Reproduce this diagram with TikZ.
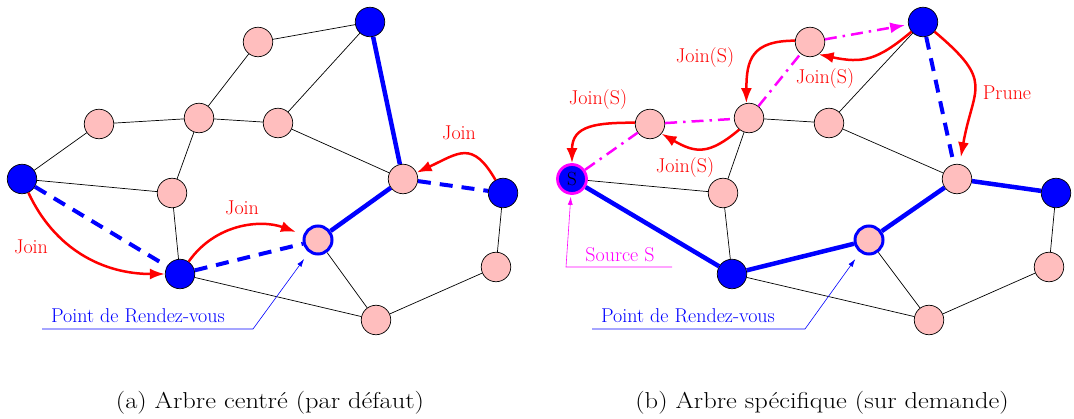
\documentclass[tikz,border=0pt]{standalone}
\usetikzlibrary{arrows.meta}
\definecolor{pinkn}{RGB}{255,190,190}
\definecolor{mgt}{RGB}{255,0,255}
\definecolor{rd}{RGB}{255,0,0}
\definecolor{bl}{RGB}{0,0,255}
\begin{document}
\begin{tikzpicture}[x=1pt,y=-1pt,
  nd/.style={circle,draw=black,line width=0.7pt,fill=pinkn,minimum size=29.5pt,inner sep=0pt},
  bn/.style={nd,fill=bl},
  rp/.style={nd,draw=bl,line width=3pt,minimum size=28pt},
  src/.style={nd,fill=bl,draw=mgt,line width=2.8pt,minimum size=29pt,font=\fontsize{19}{19}\selectfont},
  edg/.style={black,line width=0.7pt},
  tree/.style={bl,line width=4.5pt},
  treed/.style={bl,line width=4pt,dash pattern=on 13pt off 9pt},
  joinarr/.style={rd,line width=2.5pt,-{Latex[length=15pt,width=11pt]}},
  mag/.style={mgt,line width=2.5pt,dash pattern=on 12pt off 6pt on 2.5pt off 6pt},
  lbl/.style={font=\fontsize{20}{20}\selectfont},
  note/.style={line width=0.6pt,-{Latex[length=8pt,width=5pt]}},
  captxt/.style={font=\fontsize{23}{26}\selectfont}
]
\path[use as bounding box] (0,0) rectangle (1074,419);

% ---------- left graph ----------
\node[bn] (lA) at (370,22) {};
\node[nd] (lB) at (258,42) {};
\node[nd] (lC) at (99,124) {};
\node[nd] (lD) at (199,118) {};
\node[nd] (lE) at (278,123) {};
\node[bn] (lF) at (22,179) {};
\node[nd] (lG) at (172,193) {};
\node[nd] (lH) at (403,179) {};
\node[bn] (lI) at (503,193) {};
\node[rp] (lJ) at (318,240) {};
\node[bn] (lK) at (180,274) {};
\node[nd] (lL) at (496,267) {};
\node[nd] (lM) at (376,320) {};

\draw[edg] (lA) -- (lB);
\draw[edg] (lA) -- (lE);
\draw[edg] (lB) -- (lD);
\draw[edg] (lC) -- (lD);
\draw[edg] (lC) -- (lF);
\draw[edg] (lD) -- (lE);
\draw[edg] (lD) -- (lG);
\draw[edg] (lF) -- (lG);
\draw[edg] (lE) -- (lH);
\draw[edg] (lG) -- (lK);
\draw[edg] (lK) -- (lM);
\draw[edg] (lJ) -- (lM);
\draw[edg] (lI) -- (lL);
\draw[edg] (lL) -- (lM);
\draw[tree] (lA) -- (lH);
\draw[tree] (lH) -- (lJ);
\draw[treed] (lF) -- (lK);
\draw[treed] (lK) -- (lJ);
\draw[treed] (lH) -- (lI);

\draw[joinarr] (lF) to[out=-65,in=180] (lK);
\draw[joinarr,shorten >=8pt] (lK) to[out=55,in=160] (lJ);
\draw[joinarr] (lI) to[out=120,in=25,looseness=1.5] (lH);
\node[lbl,rd] (t1) at (31,247) {Join};
\node[lbl,rd] (t2) at (242,208) {Join};
\node[lbl,rd] (t3) at (459,133) {Join};

\node[lbl,bl] (rv1) at (138,316) {Point de Rendez-vous};
\coordinate (p1) at (42,329);
\coordinate (p2) at (253,329);
\draw[note,bl,shorten >=8pt] (p1) -- (p2) -- (lJ);

% ---------- right graph ----------
\node[bn] (rA) at (923,22) {};
\node[nd] (rB) at (810,42) {};
\node[nd] (rC) at (650,124) {};
\node[nd] (rD) at (749,118) {};
\node[nd] (rE) at (829,123) {};
\node[src] (rF) at (572,179) {S};
\node[nd] (rG) at (723,193) {};
\node[nd] (rH) at (957,179) {};
\node[bn] (rI) at (1056,193) {};
\node[rp] (rJ) at (869,240) {};
\node[bn] (rK) at (732,274) {};
\node[nd] (rL) at (1049,267) {};
\node[nd] (rM) at (929,320) {};

\draw[edg] (rA) -- (rE);
\draw[edg] (rD) -- (rE);
\draw[edg] (rD) -- (rG);
\draw[edg] (rF) -- (rG);
\draw[edg] (rE) -- (rH);
\draw[edg] (rG) -- (rK);
\draw[edg] (rK) -- (rM);
\draw[edg] (rJ) -- (rM);
\draw[edg] (rI) -- (rL);
\draw[edg] (rL) -- (rM);
\draw[tree] (rF) -- (rK);
\draw[tree] (rK) -- (rJ);
\draw[tree] (rJ) -- (rH);
\draw[tree] (rH) -- (rI);
\draw[treed] (rA) -- (rH);

\draw[mag] (rF) -- (rC);
\draw[mag] (rC) -- (rD);
\draw[mag] (rD) -- (rB);
\draw[mag,-{Latex[length=15pt,width=11pt]},shorten >=3pt] (rB) -- (rA);

\draw[joinarr] (rA.-140) to[out=-140,in=-12,looseness=1.2] (rB.-55);
\draw[joinarr] (rB.175) to[out=180,in=90,looseness=1.4] (rD.100);
\draw[joinarr] (rD.-130) to[out=-140,in=-30,looseness=1.3] (rC.-40);
\draw[joinarr] (rC.175) to[out=180,in=90,looseness=1.3] (rF);
\draw[joinarr,shorten >=7pt] (rA) to[out=-40,in=80,looseness=1.5] (rH);
\node[lbl,rd] (t4) at (705,58) {Join(S)};
\node[lbl,rd] (t5) at (825,79) {Join(S)};
\node[lbl,rd] (t6) at (598,100) {Join(S)};
\node[lbl,rd] (t7) at (685,168) {Join(S)};
\node[lbl,rd] (t8) at (1007,93) {Prune};

\node[lbl,mgt] (srcl) at (620,255) {Source S};
\coordinate (s1) at (672,267);
\coordinate (s2) at (566,267);
\draw[note,mgt,shorten >=2pt] (s1) -- (s2) -- (rF);

\node[lbl,bl] (rv2) at (688,316) {Point de Rendez-vous};
\coordinate (q1) at (592,329);
\coordinate (q2) at (805,329);
\draw[note,bl,shorten >=8pt] (q1) -- (q2) -- (rJ);

% ---------- captions ----------
\node[captxt] (capa) at (270,403) {\scalebox{1.15}[1]{(a) Arbre centré (par défaut)}};
\node[captxt] (capb) at (822,403) {\scalebox{1.15}[1]{(b) Arbre spécifique (sur demande)}};
\end{tikzpicture}
\end{document}
